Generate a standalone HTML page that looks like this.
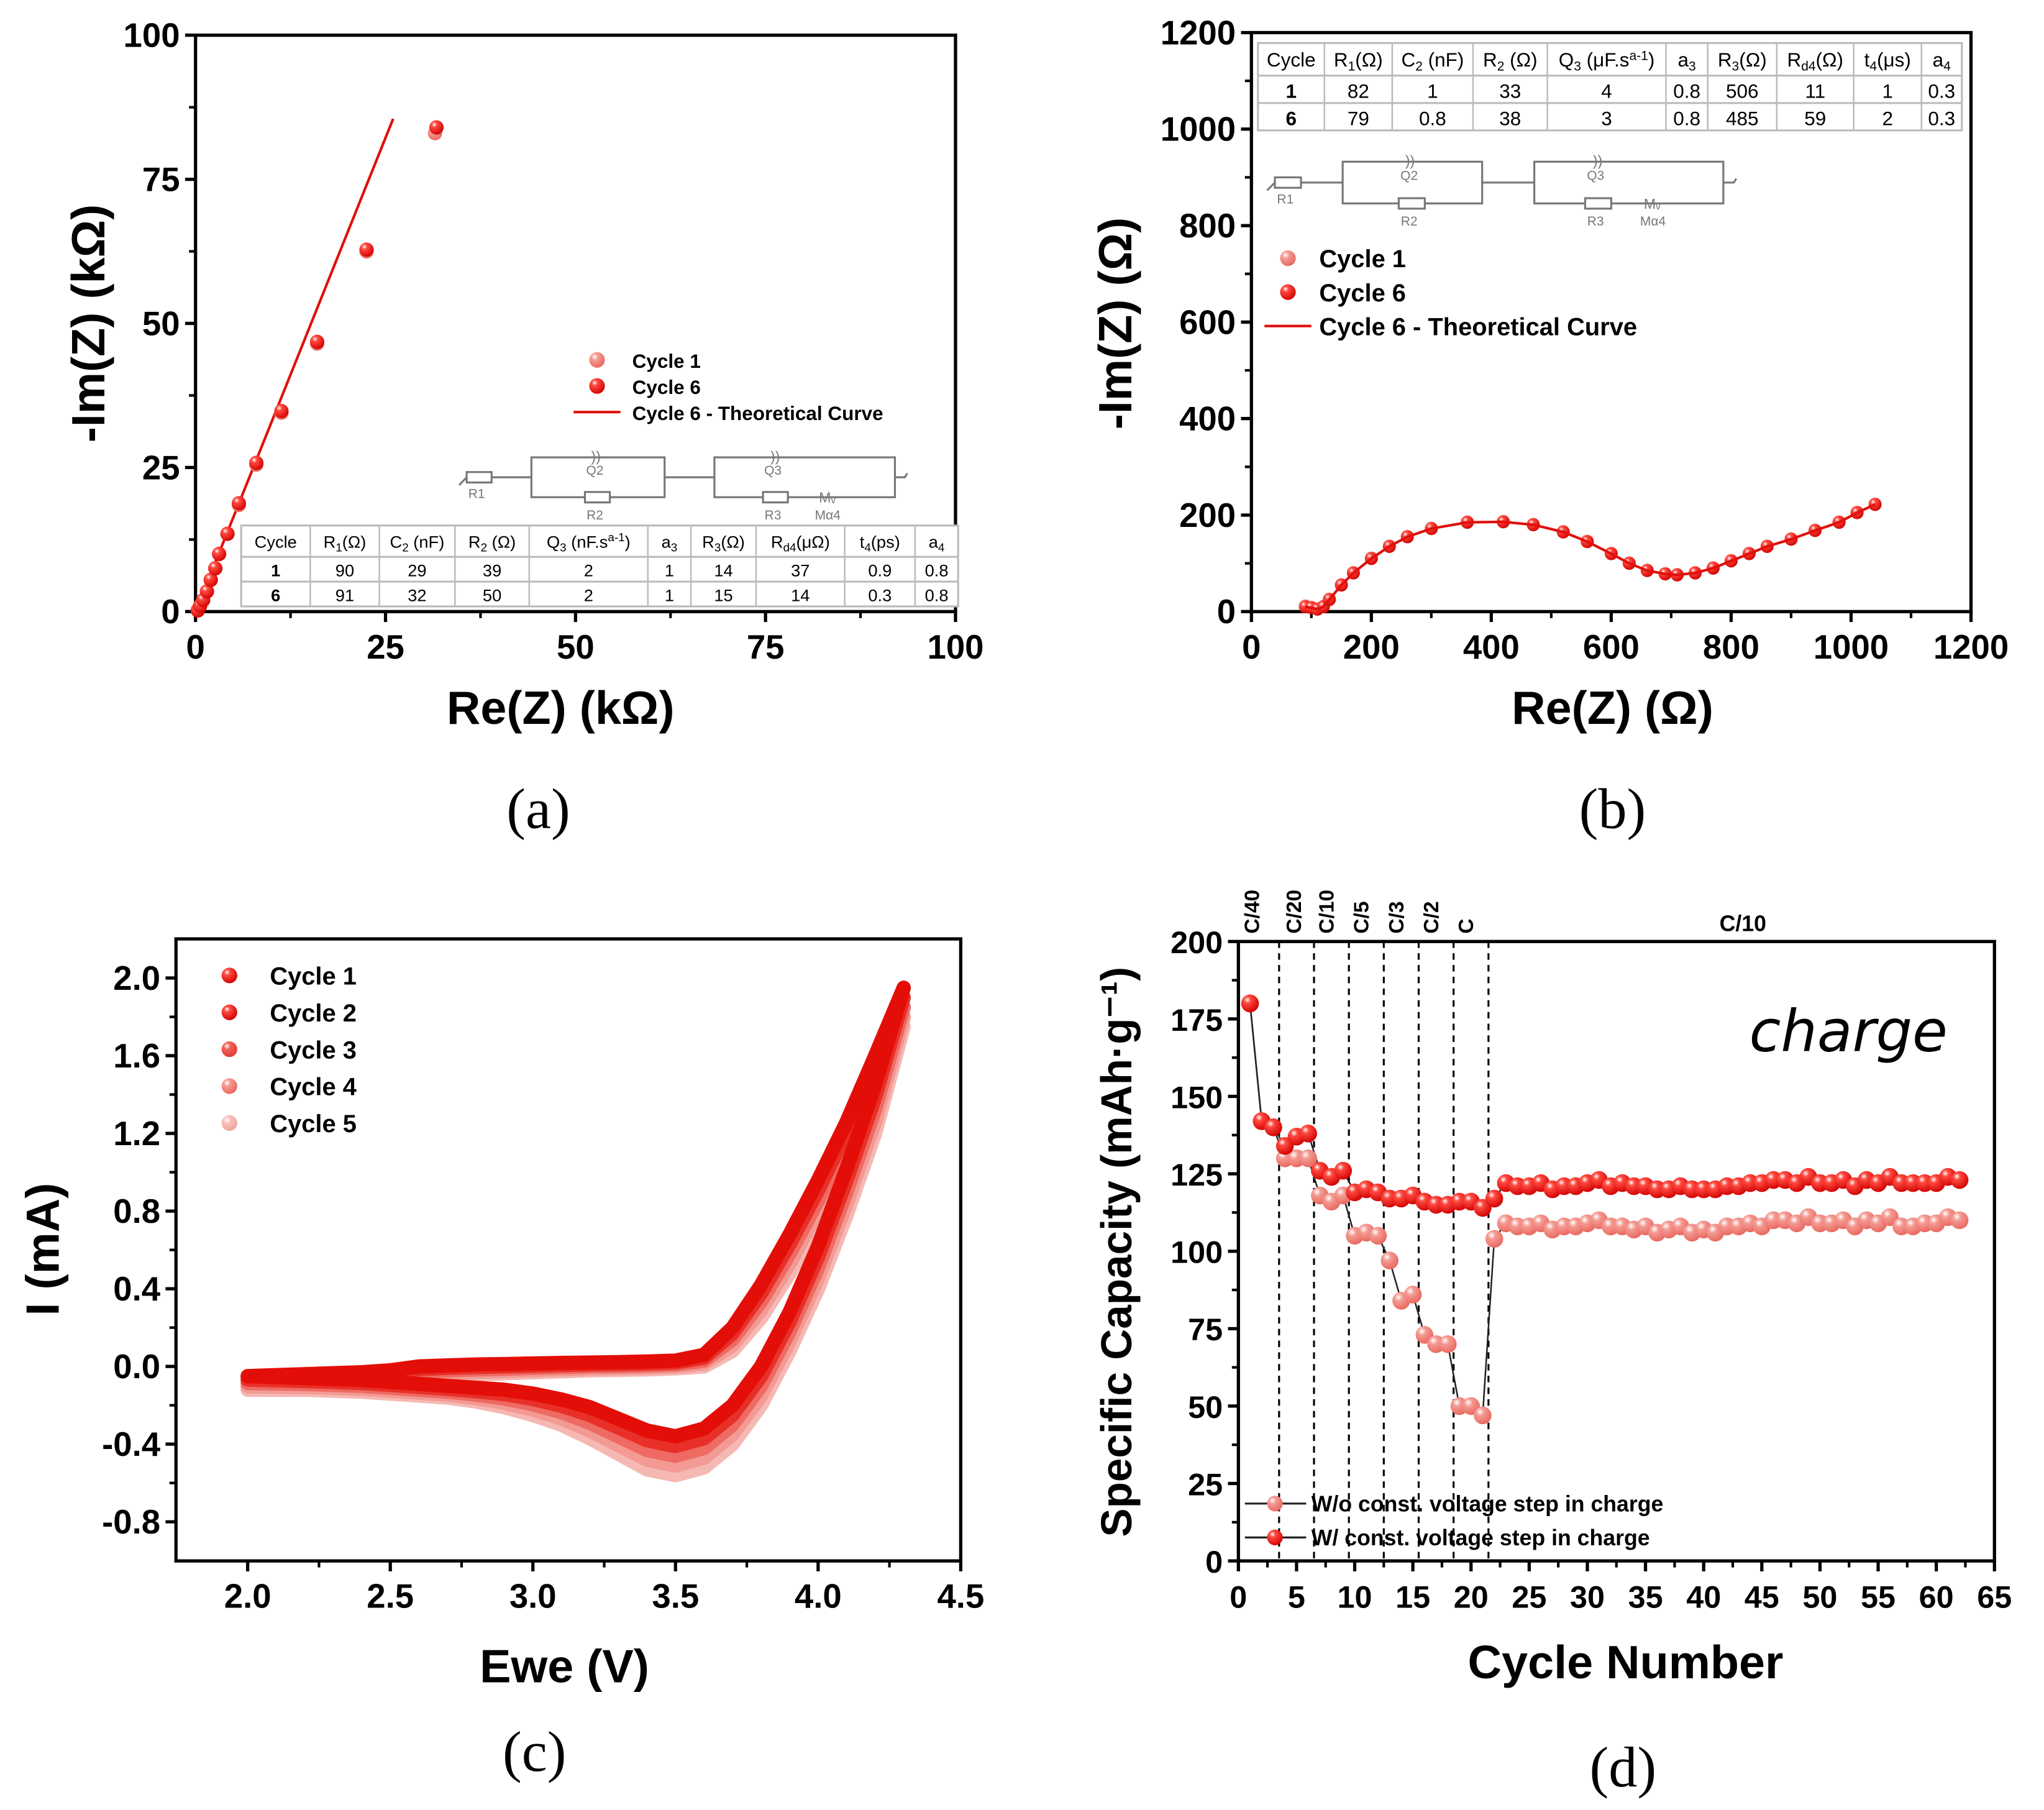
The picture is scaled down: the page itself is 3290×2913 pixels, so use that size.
<!DOCTYPE html>
<html><head><meta charset="utf-8"><style>
html,body{margin:0;padding:0;background:#fff;}
svg{display:block;}
text{font-family:"Liberation Sans",Arial,sans-serif;}
</style></head><body>
<svg id="fig" xmlns="http://www.w3.org/2000/svg" width="3290" height="2913" viewBox="0 0 1568 1388" preserveAspectRatio="none">
<defs>
<radialGradient id="gDark" cx="0.35" cy="0.3" r="0.75"><stop offset="0" stop-color="#fff"/><stop offset="0.25" stop-color="#ff4a40"/><stop offset="1" stop-color="#d00000"/></radialGradient>
<radialGradient id="gLight" cx="0.35" cy="0.3" r="0.75"><stop offset="0" stop-color="#fff"/><stop offset="0.3" stop-color="#f49a92"/><stop offset="1" stop-color="#e8665e"/></radialGradient>
<radialGradient id="gC3" cx="0.35" cy="0.3" r="0.75"><stop offset="0" stop-color="#fff"/><stop offset="0.3" stop-color="#f26058"/><stop offset="1" stop-color="#e03a34"/></radialGradient>
<radialGradient id="gC5" cx="0.35" cy="0.3" r="0.75"><stop offset="0" stop-color="#fff"/><stop offset="0.3" stop-color="#f8c0bc"/><stop offset="1" stop-color="#f2a09a"/></radialGradient>
</defs>
<g id="root"></g>
</svg>
<script>
// ---------- Panel (a) data ----------
const aRe1 = [0.3,0.6,1.0,1.5,2.0,2.6,3.1,4.2,5.7,8.0,11.3,16.0,22.5,31.5];
const aIm1 = [0.3,1.0,2.0,3.5,5.5,7.5,10.0,13.5,18.5,25.5,34.5,46.5,62.5,83.0];
const aRe6 = [0.3,0.6,1.0,1.5,2.0,2.6,3.1,4.2,5.7,8.0,11.3,16.0,22.5,31.7];
const aIm6 = [0.2,1.0,2.0,3.5,5.5,7.5,10.0,13.5,18.8,25.8,34.8,46.8,62.8,84.0];
const aFitRe = [0,26.0];
const aFitIm = [0,85.5];
const aTicks = [0,25,50,75,100];
// ---------- Panel (b) data ----------
const bRe = [90,100,110,120,130,150,170,200,230,260,300,360,420,470,520,560,600,630,660,690,710,740,770,800,830,860,900,940,980,1010,1040];
const bIm6 = [10,8,5,10,25,55,80,110,135,155,172,185,186,180,165,145,120,100,85,78,76,80,90,105,120,135,150,168,185,205,222];
const bIm1 = [12,9,6,11,26,56,81,111,136,156,173,186,187,181,166,146,121,101,86,79,77,81,91,106,121,136,151,169,186,206,223];
const bTicks = [0,200,400,600,800,1000,1200];
// ---------- Panel (c) data ----------
const cV = [2.0,2.1,2.2,2.3,2.4,2.5,2.6,2.7,2.8,2.9,3.0,3.1,3.2,3.3,3.4,3.5,3.6,3.7,3.8,3.9,4.0,4.1,4.2,4.3];
const cFwd1 = [-0.05,-0.045,-0.04,-0.035,-0.03,-0.02,0.0,0.005,0.01,0.012,0.015,0.018,0.02,0.022,0.025,0.03,0.06,0.2,0.42,0.68,0.96,1.26,1.6,1.95];
const cRev1 = [-0.05,-0.055,-0.06,-0.065,-0.07,-0.08,-0.09,-0.10,-0.11,-0.12,-0.14,-0.17,-0.21,-0.27,-0.33,-0.36,-0.32,-0.2,0.0,0.28,0.62,1.02,1.45,1.95];
const cFwd5 = [-0.12,-0.11,-0.1,-0.09,-0.08,-0.07,-0.05,-0.045,-0.04,-0.035,-0.03,-0.025,-0.02,-0.018,-0.015,-0.01,0.0,0.08,0.25,0.48,0.75,1.05,1.4,1.75];
const cRev5 = [-0.12,-0.12,-0.12,-0.125,-0.13,-0.14,-0.15,-0.16,-0.18,-0.21,-0.25,-0.3,-0.37,-0.45,-0.53,-0.56,-0.52,-0.4,-0.2,0.08,0.4,0.78,1.2,1.75];
const cXTicks = [2.0,2.5,3.0,3.5,4.0,4.5];
const cYTicks = [-0.8,-0.4,0.0,0.4,0.8,1.2,1.6,2.0];
// ---------- Panel (d) data ----------
const dCycles = Array.from({length:62},(_, i)=>i+1);
const dWith = [180,142,140,134,137,138,126,124,126,119,120,119,117,117,118,116,115,115,116,116,114,117,
 122,121,121,122,120,121,121,122,123,121,122,121,121,120,120,121,120,120,120,121,121,122,122,123,123,122,124,122,122,123,121,123,122,124,122,122,122,122,124,123];
const dWithout = [180,142,140,130,130,130,118,116,118,105,106,105,97,84,86,73,70,70,50,50,47,104,
 109,108,108,109,107,108,108,109,110,108,108,107,108,106,107,108,106,107,106,108,108,109,108,110,110,109,111,109,109,110,108,110,109,111,108,108,109,109,111,110];
const dRateBounds = [3.5,6.5,9.5,12.5,15.5,18.5,21.5];
const dRateLabels = ["C/40","C/20","C/10","C/5","C/3","C/2","C"];
const dRatePos = [1,4.6,7.4,10.4,13.4,16.4,19.4];
const dXTicks = [0,5,10,15,20,25,30,35,40,45,50,55,60,65];
const dYTicks = [0,25,50,75,100,125,150,175,200];

const NS="http://www.w3.org/2000/svg";
const root=document.getElementById('root');
function el(tag,attrs,parent,txt){const e=document.createElementNS(NS,tag);for(const k in attrs)e.setAttribute(k,attrs[k]);if(txt!==undefined)e.textContent=txt;(parent||root).appendChild(e);return e;}
function lin(d0,d1,p0,p1){return v=>p0+(v-d0)*(p1-p0)/(d1-d0);}

function frame(g,L,T,R,B){
  const f=el('rect',{x:L,y:T,width:R-L,height:B-T,fill:'none',stroke:'#000','stroke-width':2.5},g);
  
  
}
function xTicks(g,ticks,sx,B,fmt,minor,fs){
  ticks.forEach((t,i)=>{
    el('line',{x1:sx(t),x2:sx(t),y1:B,y2:B+8,stroke:'#000','stroke-width':2.5},g);
    const tx=el('text',{x:sx(t),y:B+36,'text-anchor':'middle','font-size':fs||26,'font-weight':'bold'},g,fmt(t));
    
    
    if(minor&&i<ticks.length-1){const m=(t+ticks[i+1])/2;el('line',{x1:sx(m),x2:sx(m),y1:B,y2:B+5,stroke:'#000','stroke-width':2},g);}
  });
}
function yTicks(g,ticks,sy,L,fmt,minor,fs){
  ticks.forEach((t,i)=>{
    el('line',{x1:L-8,x2:L,y1:sy(t),y2:sy(t),stroke:'#000','stroke-width':2.5},g);
    const tx=el('text',{x:L-12,y:sy(t)+9,'text-anchor':'end','font-size':fs||26,'font-weight':'bold'},g,fmt(t));
    
    
    if(minor&&i<ticks.length-1){const m=(t+ticks[i+1])/2;el('line',{x1:L-5,x2:L,y1:sy(m),y2:sy(m),stroke:'#000','stroke-width':2},g);}
  });
}
function title(g,x,y,txt,rot,name,fs){
  const t=el('text',{x:x,y:y,'text-anchor':'middle','font-size':fs||34,'font-weight':'bold',transform:rot?`rotate(-90 ${x} ${y})`:''},g,txt);
  
  
}
function plabel(x,y,txt,name){
  const t=el('text',{x:x,y:y,'text-anchor':'middle','font-size':44,style:'font-family:"Liberation Serif",serif'},root,txt);
  
  
}
function ball(g,x,y,r,fill,name){
  const c=el('circle',{cx:x,cy:y,r:r,fill:fill},g);
  
  
  return c;
}
function circuit(g,x0,yc,s){
  const st={stroke:'#777','stroke-width':1.5,fill:'none'};
  const X=v=>x0+v*s;
  const h=16*s;
  el('path',Object.assign({d:`M${X(-6)} ${yc+6} L${X(0)} ${yc}`},st),g);
  el('rect',Object.assign({x:X(0),y:yc-4,width:20*s,height:8},st,{fill:'#fff'}),g);
  el('line',Object.assign({x1:X(20),x2:X(52),y1:yc,y2:yc},st),g);
  el('rect',Object.assign({x:X(52),y:yc-h,width:107*s,height:2*h},st),g);
  el('line',Object.assign({x1:X(159),x2:X(199),y1:yc,y2:yc},st),g);
  el('rect',Object.assign({x:X(199),y:yc-h,width:145*s,height:2*h},st),g);
  el('path',Object.assign({d:`M${X(344)} ${yc} L${X(352)} ${yc} L${X(354)} ${yc-3}`},st),g);
  el('rect',Object.assign({x:X(95),y:yc+h-4,width:20*s,height:8},st,{fill:'#fff'}),g);
  el('rect',Object.assign({x:X(238),y:yc+h-4,width:20*s,height:8},st,{fill:'#fff'}),g);
  el('text',{x:X(100),y:yc-h+3,'font-size':11,fill:'#777'},g,')) ');
  el('text',{x:X(244),y:yc-h+3,'font-size':11,fill:'#777'},g,'))');
  el('text',{x:X(283),y:yc+h+4,'font-size':11,fill:'#777'},g,'Mᵥ');
  const lb=(x,y,t)=>el('text',{x:x,y:y,'font-size':10,fill:'#777','text-anchor':'middle'},g,t);
  lb(X(8),yc+16,'R1');lb(X(103),yc-2,'Q2');lb(X(103),yc+h+17,'R2');lb(X(246),yc-2,'Q3');lb(X(246),yc+h+17,'R3');lb(X(290),yc+h+17,'Mα4');
}
function table(g,L,T,cols,rows,rowH,headH,heads,data,fs){
  const W=cols[cols.length-1]-L;
  const H=headH+rowH*data.length;
  const tb=el('g',{},g);
  
  
  el('rect',{x:L,y:T,width:W,height:H,fill:'#fff',stroke:'#bbb','stroke-width':1.5},tb);
  el('line',{x1:L,x2:L+W,y1:T+headH,y2:T+headH,stroke:'#bbb','stroke-width':1.5},tb);
  el('line',{x1:L,x2:L+W,y1:T+headH+rowH,y2:T+headH+rowH,stroke:'#bbb','stroke-width':1.5},tb);
  let prev=L;
  cols.forEach((c,i)=>{
    if(i<cols.length-1)el('line',{x1:c,x2:c,y1:T,y2:T+H,stroke:'#bbb','stroke-width':1.2},tb);
    const mid=(prev+c)/2;
    const ht=el('text',{x:mid,y:T+headH-7,'text-anchor':'middle','font-size':fs},tb);
    ht.innerHTML=heads[i];
    data.forEach((r,j)=>{
      el('text',{x:mid,y:T+headH+rowH*(j+1)-4,'text-anchor':'middle','font-size':fs,'font-weight':i===0?'bold':'normal'},tb,r[i]);
    });
    prev=c;
  });
}

// ================= Panel (a) =================
(function(){
  const g=el('g',{});
  const L=150,R=733,T=27,B=469;
  const sx=lin(0,100,L,R), sy=lin(0,100,B,T);
  frame(g,L,T,R,B);
  xTicks(g,aTicks,sx,B,v=>String(v),true);
  yTicks(g,aTicks,sy,L,v=>String(v),true);
  title(g,430,555,'Re(Z) (kΩ)',false,'x-axis-title',36);
  title(g,80,248,'-Im(Z) (kΩ)',true,'y-axis-title',36);
  const fit=el('line',{x1:sx(aFitRe[0]),y1:sy(aFitIm[0]),x2:sx(aFitRe[1]),y2:sy(aFitIm[1]),stroke:'#e0100c','stroke-width':2},g);
  
  aRe1.forEach((v,i)=>ball(g,sx(v),sy(aIm1[i]),5.5,'url(#gLight)','point-cycle-1'));
  aRe6.forEach((v,i)=>ball(g,sx(v),sy(aIm6[i]),5.5,'url(#gDark)','point-cycle-6'));
  const lg=el('g',{},g);
  ball(lg,458,276,6,'url(#gLight)','legend-marker-cycle-1');
  ball(lg,458,296,6,'url(#gDark)','legend-marker-cycle-6');
  el('line',{x1:440,x2:476,y1:316,y2:316,stroke:'#e0100c','stroke-width':2},lg);
  el('text',{x:485,y:282,'font-size':15,'font-weight':'bold'},lg,'Cycle 1');
  el('text',{x:485,y:302,'font-size':15,'font-weight':'bold'},lg,'Cycle 6');
  el('text',{x:485,y:322,'font-size':15,'font-weight':'bold'},lg,'Cycle 6 - Theoretical Curve');
  const cg=el('g',{},g);
  circuit(cg,358,366,0.955);
  table(g,185,403,[238,291,349,406,497,530,580,648,702,735],2,19,24,
    ['Cycle','R<tspan font-size="9" dy="3">1</tspan><tspan dy="-3">(Ω)</tspan>','C<tspan font-size="9" dy="3">2</tspan><tspan dy="-3"> (nF)</tspan>','R<tspan font-size="9" dy="3">2</tspan><tspan dy="-3"> (Ω)</tspan>','Q<tspan font-size="9" dy="3">3</tspan><tspan dy="-3"> (nF.s</tspan><tspan font-size="9" dy="-5">a-1</tspan><tspan dy="5">)</tspan>','a<tspan font-size="9" dy="3">3</tspan>','R<tspan font-size="9" dy="3">3</tspan><tspan dy="-3">(Ω)</tspan>','R<tspan font-size="9" dy="3">d4</tspan><tspan dy="-3">(μΩ)</tspan>','t<tspan font-size="9" dy="3">4</tspan><tspan dy="-3">(ps)</tspan>','a<tspan font-size="9" dy="3">4</tspan>'],
    [['1','90','29','39','2','1','14','37','0.9','0.8'],['6','91','32','50','2','1','15','14','0.3','0.8']],13);
  plabel(413,635,'(a)','panel-label-a');
})();

// ================= Panel (b) =================
(function(){
  const g=el('g',{});
  const L=960,R=1512,T=25,B=469;
  const sx=lin(0,1200,L,R), sy=lin(0,1200,B,T);
  frame(g,L,T,R,B);
  xTicks(g,bTicks,sx,B,v=>String(v),true);
  yTicks(g,bTicks,sy,L,v=>String(v),true);
  title(g,1237,555,'Re(Z) (Ω)',false,'x-axis-title',36);
  title(g,868,248,'-Im(Z) (Ω)',true,'y-axis-title',36);
  bRe.forEach((v,i)=>ball(g,sx(v),sy(bIm1[i]),5,'url(#gLight)','point-cycle-1'));
  bRe.forEach((v,i)=>ball(g,sx(v),sy(bIm6[i]),5,'url(#gDark)','point-cycle-6'));
  const fit=el('polyline',{points:bRe.map((v,i)=>sx(v)+','+sy(bIm6[i])).join(' '),fill:'none',stroke:'#e0100c','stroke-width':2},g);
  
  table(g,965,33,[1016,1068,1130,1187,1278,1310,1363,1422,1474,1505],2,21,25,
    ['Cycle','R<tspan font-size="10" dy="3">1</tspan><tspan dy="-3">(Ω)</tspan>','C<tspan font-size="10" dy="3">2</tspan><tspan dy="-3"> (nF)</tspan>','R<tspan font-size="10" dy="3">2</tspan><tspan dy="-3"> (Ω)</tspan>','Q<tspan font-size="10" dy="3">3</tspan><tspan dy="-3"> (μF.s</tspan><tspan font-size="10" dy="-5">a-1</tspan><tspan dy="5">)</tspan>','a<tspan font-size="10" dy="3">3</tspan>','R<tspan font-size="10" dy="3">3</tspan><tspan dy="-3">(Ω)</tspan>','R<tspan font-size="10" dy="3">d4</tspan><tspan dy="-3">(Ω)</tspan>','t<tspan font-size="10" dy="3">4</tspan><tspan dy="-3">(μs)</tspan>','a<tspan font-size="10" dy="3">4</tspan>'],
    [['1','82','1','33','4','0.8','506','11','1','0.3'],['6','79','0.8','38','3','0.8','485','59','2','0.3']],15);
  const cg=el('g',{},g);
  circuit(cg,978,140,1);
  const lg=el('g',{},g);
  ball(lg,988,198,6,'url(#gLight)','legend-marker-cycle-1');
  ball(lg,988,224,6,'url(#gDark)','legend-marker-cycle-6');
  el('line',{x1:970,x2:1006,y1:250,y2:250,stroke:'#e0100c','stroke-width':2},lg);
  el('text',{x:1012,y:205,'font-size':19,'font-weight':'bold'},lg,'Cycle 1');
  el('text',{x:1012,y:231,'font-size':19,'font-weight':'bold'},lg,'Cycle 6');
  el('text',{x:1012,y:257,'font-size':19,'font-weight':'bold'},lg,'Cycle 6 - Theoretical Curve');
  plabel(1237,635,'(b)','panel-label-b');
})();

// ================= Panel (c) =================
(function(){
  const g=el('g',{});
  const L=135,R=737,T=720,B=1197;
  const sx=lin(2.0,4.5,190,737), sy=lin(2.0,-0.8,750,1167);
  frame(g,L,T,R,B);
  xTicks(g,cXTicks,sx,B,v=>v.toFixed(1),true);
  yTicks(g,cYTicks,sy,L,v=>v.toFixed(1),true);
  title(g,433,1290,'Ewe (V)',false,'x-axis-title',36);
  title(g,45,958,'I (mA)',true,'y-axis-title',36);
  const cols=['#f6b8b2','#f39a94','#ee6a62','#e83028','#e40e08'];
  const names=['cycle-5','cycle-4','cycle-3','cycle-2','cycle-1'];
  for(let k=0;k<5;k++){
    const w=k/4;
    const fwd=cFwd5.map((v,i)=>v+(cFwd1[i]-v)*w);
    const rev=cRev5.map((v,i)=>v+(cRev1[i]-v)*w);
    let pts=cV.map((v,i)=>sx(v)+','+sy(fwd[i]));
    for(let i=cV.length-1;i>=0;i--)pts.push(sx(cV[i])+','+sy(rev[i]));
    const p=el('polyline',{points:pts.join(' '),fill:'none',stroke:cols[k],'stroke-width':11,'stroke-linejoin':'round','stroke-linecap':'round'},g);
    
    
  }
  const lg=el('g',{},g);
  const lgrad=['url(#gDark)','url(#gDark)','url(#gC3)','url(#gLight)','url(#gC5)'];
  ['Cycle 1','Cycle 2','Cycle 3','Cycle 4','Cycle 5'].forEach((t,i)=>{
    const y=748+i*28.3;
    ball(lg,176,y,6,lgrad[i],'legend-marker-cycle-'+(i+1));
    el('text',{x:207,y:y+7,'font-size':19,'font-weight':'bold'},lg,t);
  });
  plabel(410,1358,'(c)','panel-label-c');
})();

// ================= Panel (d) =================
(function(){
  const g=el('g',{});
  const L=950,R=1530,T=722,B=1197;
  const sx=lin(0,65,L,R), sy=lin(0,200,B,T);
  frame(g,L,T,R,B);
  xTicks(g,dXTicks,sx,B,v=>String(v),true,24);
  yTicks(g,dYTicks,sy,L,v=>String(v),true,24);
  title(g,1247,1287,'Cycle Number',false,'x-axis-title',36);
  title(g,868,960,'Specific Capacity (mAh·g⁻¹)',true,'y-axis-title',33);
  dRateBounds.forEach(b=>{
    const l=el('line',{x1:sx(b),x2:sx(b),y1:T,y2:B,stroke:'#000','stroke-width':1.5,'stroke-dasharray':'5,4'},g);
    
  });
  dRateLabels.forEach((t,i)=>{
    const x=sx(dRatePos[i])+7, y=716;
    const tx=el('text',{x:x,y:y,'font-size':16,'font-weight':'bold',transform:`rotate(-90 ${x} ${y})`},g,t);
    
  });
  const c10=el('text',{x:1337,y:714,'text-anchor':'middle','font-size':17,'font-weight':'bold'},g,'C/10');
  
  const ch=el('text',{x:1418,y:806,'text-anchor':'middle','font-size':44,'font-style':'italic',style:'font-family:"DejaVu Sans",sans-serif'},g,'charge');
  
  const pl1=el('polyline',{points:dCycles.map((c,i)=>sx(c)+','+sy(dWithout[i])).join(' '),fill:'none',stroke:'#222','stroke-width':1.2},g);
  
  const pl2=el('polyline',{points:dCycles.map((c,i)=>sx(c)+','+sy(dWith[i])).join(' '),fill:'none',stroke:'#222','stroke-width':1.2},g);
  
  dCycles.forEach((c,i)=>ball(g,sx(c),sy(dWithout[i]),6.8,'url(#gLight)','point-without-cv'));
  dCycles.forEach((c,i)=>ball(g,sx(c),sy(dWith[i]),6.8,'url(#gDark)','point-with-cv'));
  const lg=el('g',{},g);
  el('line',{x1:955,x2:1002,y1:1153,y2:1153,stroke:'#222','stroke-width':1.5},lg);
  el('line',{x1:955,x2:1002,y1:1179,y2:1179,stroke:'#222','stroke-width':1.5},lg);
  ball(lg,978,1153,6,'url(#gLight)','legend-marker-without-cv');
  ball(lg,978,1179,6,'url(#gDark)','legend-marker-with-cv');
  el('text',{x:1006,y:1159,'font-size':17,'font-weight':'bold'},lg,'W/o const. voltage step in charge');
  el('text',{x:1006,y:1185,'font-size':17,'font-weight':'bold'},lg,'W/ const. voltage step in charge');
  plabel(1245,1370,'(d)','panel-label-d');
})();
</script>
</body></html>
